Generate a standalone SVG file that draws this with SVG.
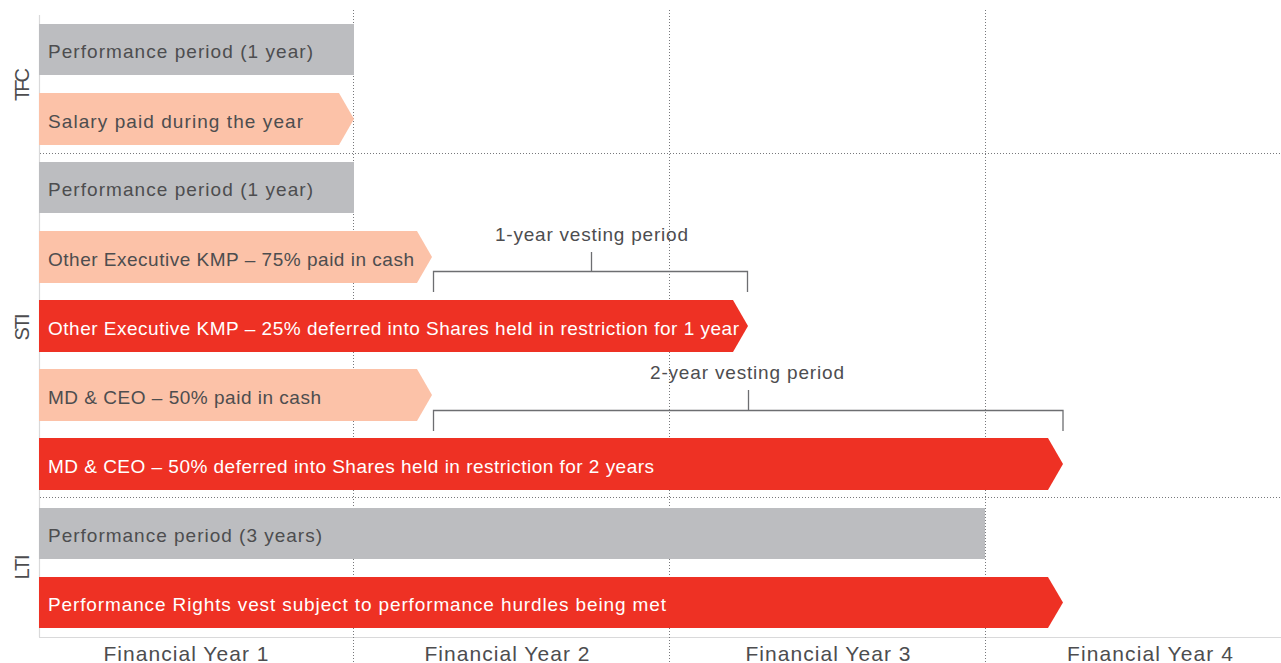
<svg xmlns="http://www.w3.org/2000/svg" width="1281" height="663" viewBox="0 0 1281 663">
<style>
.grid{stroke:#77787b;stroke-width:1;stroke-dasharray:1 2;fill:none}
.axis{stroke:#d9d9da;stroke-width:1.2;fill:none}
.gray{fill:#bcbdc0}
.peach{fill:#fcc2a8}
.red{fill:#ee3124}
.t{font-family:"Liberation Sans",Arial,sans-serif;font-size:19px;fill:#4d4d4f}
.w{fill:#ffffff}
.yr{font-family:"Liberation Sans",Arial,sans-serif;font-size:21px;fill:#4d4d4f;text-anchor:middle}
.side{font-family:"Liberation Sans",Arial,sans-serif;font-size:20px;fill:#4d4d4f;text-anchor:middle}
.br{stroke:#6d6e71;stroke-width:1.3;fill:none}
</style>
<rect width="1281" height="663" fill="#ffffff"/>
<g id="axes">
<line class="axis" x1="39.5" y1="15" x2="39.5" y2="637"/>
<line class="axis" x1="39" y1="637.5" x2="1281" y2="637.5"/>
<line class="grid" x1="353.5" y1="10" x2="353.5" y2="663"/>
<line class="grid" x1="669.5" y1="10" x2="669.5" y2="663"/>
<line class="grid" x1="985.5" y1="10" x2="985.5" y2="663"/>
<line class="grid" x1="40" y1="153.5" x2="1281" y2="153.5"/>
<line class="grid" x1="40" y1="497.5" x2="1281" y2="497.5"/>
</g>
<g id="labels">
<text class="side" transform="translate(29,84.5) rotate(-90)" textLength="33">TFC</text>
<text class="side" transform="translate(29,327) rotate(-90)" textLength="27">STI</text>
<text class="side" transform="translate(29,567) rotate(-90)" textLength="25">LTI</text>
<text class="yr" x="186" y="661" textLength="165">Financial Year 1</text>
<text class="yr" x="507" y="661" textLength="165">Financial Year 2</text>
<text class="yr" x="828" y="661" textLength="165">Financial Year 3</text>
<text class="yr" x="1150" y="661" textLength="166">Financial Year 4</text>
</g>
<g id="tfc-performance">
<rect class="gray" x="39" y="24" width="315" height="51"/>
<text class="t" x="48" y="57.5" textLength="265">Performance period (1 year)</text>
</g>
<g id="tfc-salary">
<polygon class="peach" points="39,93 339,93 354,119 339,145 39,145"/>
<text class="t" x="48" y="127.5" textLength="255">Salary paid during the year</text>
</g>
<g id="sti-performance">
<rect class="gray" x="39" y="162" width="315" height="51"/>
<text class="t" x="48" y="195.5" textLength="265">Performance period (1 year)</text>
</g>
<g id="sti-kmp-cash">
<polygon class="peach" points="39,231 417,231 432,257 417,283 39,283"/>
<text class="t" x="48" y="265.5" textLength="366">Other Executive KMP – 75% paid in cash</text>
</g>
<g id="sti-kmp-deferred">
<polygon class="red" points="39,300 733,300 748,326 733,352 39,352"/>
<text class="t w" x="48" y="334.5" textLength="691">Other Executive KMP – 25% deferred into Shares held in restriction for 1 year</text>
</g>
<g id="sti-ceo-cash">
<polygon class="peach" points="39,369 417,369 432,395 417,421 39,421"/>
<text class="t" x="48" y="403.5" textLength="273">MD &amp; CEO – 50% paid in cash</text>
</g>
<g id="sti-ceo-deferred">
<polygon class="red" points="39,438 1048,438 1063,464 1048,490 39,490"/>
<text class="t w" x="48" y="472.5" textLength="606">MD &amp; CEO – 50% deferred into Shares held in restriction for 2 years</text>
</g>
<g id="lti-performance">
<rect class="gray" x="39" y="508" width="946" height="51"/>
<text class="t" x="48" y="541.5" textLength="274">Performance period (3 years)</text>
</g>
<g id="lti-rights">
<polygon class="red" points="39,577 1048,577 1063,602.5 1048,628 39,628"/>
<text class="t w" x="48" y="610.5" textLength="618">Performance Rights vest subject to performance hurdles being met</text>
</g>
<g id="connectors">
<path class="br" d="M433.5,292 V271.5 H747.5 V292 M591.5,271.5 V252"/>
<path class="br" d="M433.5,431 V410.5 H1063 V431 M748.5,410.5 V390"/>
<text class="t" x="591.5" y="241" text-anchor="middle" textLength="193">1-year vesting period</text>
<text class="t" x="747" y="379" text-anchor="middle" textLength="194">2-year vesting period</text>
</g>
</svg>
